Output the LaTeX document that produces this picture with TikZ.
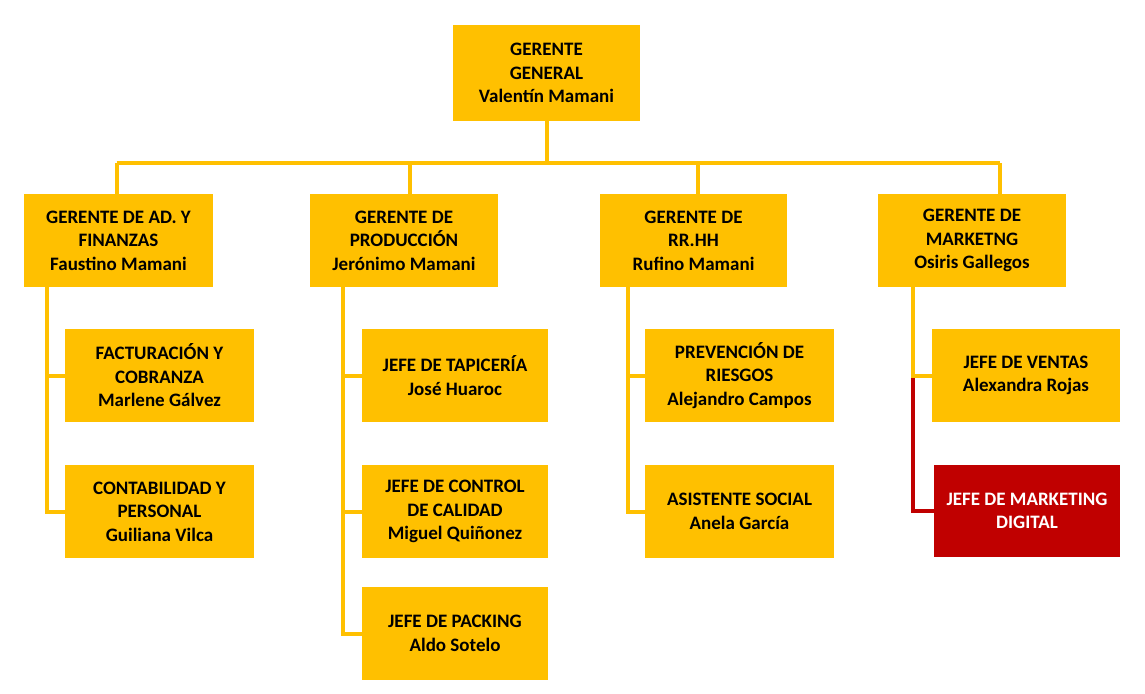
\documentclass[tikz,border=0pt]{standalone}
\usepackage{fontspec}
\setmainfont{Carlito}
\definecolor{gold}{HTML}{FFC000}
\definecolor{crimson}{HTML}{C00000}
\begin{document}
\begin{tikzpicture}[x=1pt,y=-1pt,
  box/.style={fill=gold, draw=none, align=center, inner sep=0pt,
    minimum height=93pt, text=black,
    font=\fontsize{19}{23.5}\selectfont\bfseries},
  hot/.style={box, fill=crimson, text=white},
  link/.style={draw=gold, line width=4pt},
  hotlink/.style={draw=crimson, line width=4pt}]
\useasboundingbox (0,0) rectangle (1145,693);

% top manager
\node[box, minimum width=187pt, minimum height=96pt] (gg) at (546.5,73) {GERENTE\\GENERAL\\Valentín Mamani};

% department heads
\node[box, minimum width=189pt] (b1) at (118.5,240.5) {GERENTE DE AD. Y\\FINANZAS\\Faustino Mamani};
\node[box, minimum width=188pt] (b2) at (404,240.5) {GERENTE DE\\PRODUCCIÓN\\Jerónimo Mamani};
\node[box, minimum width=187pt] (b3) at (693.5,240.5) {GERENTE DE\\RR.HH\\Rufino Mamani};
\node[box, minimum width=188pt] (b4) at (972,240.5) {GERENTE DE\\MARKETNG\\Osiris Gallegos};

% finance
\node[box, minimum width=189pt] (c11) at (159.5,375.5) {FACTURACIÓN Y\\COBRANZA\\Marlene Gálvez};
\node[box, minimum width=189pt] (c12) at (159.5,511.5) {CONTABILIDAD Y\\PERSONAL\\Guiliana Vilca};

% production
\node[box, minimum width=186pt] (c21) at (455,375.5) {JEFE DE TAPICERÍA\\José Huaroc};
\node[box, minimum width=186pt] (c22) at (455,511.5) {JEFE DE CONTROL\\DE CALIDAD\\Miguel Quiñonez};
\node[box, minimum width=186pt] (c23) at (455,633.5) {JEFE DE PACKING\\Aldo Sotelo};

% human resources
\node[box, minimum width=189pt] (c31) at (739.5,375.5) {PREVENCIÓN DE\\RIESGOS\\Alejandro Campos};
\node[box, minimum width=189pt] (c32) at (739.5,511.5) {ASISTENTE SOCIAL\\Anela García};

% marketing
\node[box, minimum width=188pt] (c41) at (1026,375.5) {JEFE DE VENTAS\\Alexandra Rojas};
\node[hot, minimum width=186pt, minimum height=92pt] (c42) at (1027,511) {JEFE DE MARKETING\\DIGITAL};

% bus under the general manager
\coordinate (t1) at (116.7,163);
\coordinate (t2) at (410,163);
\coordinate (t3) at (698,163);
\coordinate (t4) at (1000,163);
\draw[link] (gg.south) -- (gg.south |- t1);
\draw[link] (t1) -- (t4);
\draw[link] (t1) -- (t1 |- b1.north);
\draw[link] (t2) -- (t2 |- b2.north);
\draw[link] (t3) -- (t3 |- b3.north);
\draw[link] (t4) -- (t4 |- b4.north);

% spines below each department head
\coordinate (s1) at (46.7,287);
\coordinate (s2) at (343,287);
\coordinate (s3) at (627.7,287);
\coordinate (s4) at (912.7,287);

\draw[link] (s1) |- (c12.west);
\draw[link] (s1 |- c11.west) -- (c11.west);

\draw[link] (s2) |- (c23.west);
\draw[link] (s2 |- c21.west) -- (c21.west);
\draw[link] (s2 |- c22.west) -- (c22.west);

\draw[link] (s3) |- (c32.west);
\draw[link] (s3 |- c31.west) -- (c31.west);

\coordinate (k4) at (s4 |- c41.west);
\draw[hotlink] (k4) |- (c42.west);
\draw[link] (s4) |- (c41.west);
\end{tikzpicture}
\end{document}
